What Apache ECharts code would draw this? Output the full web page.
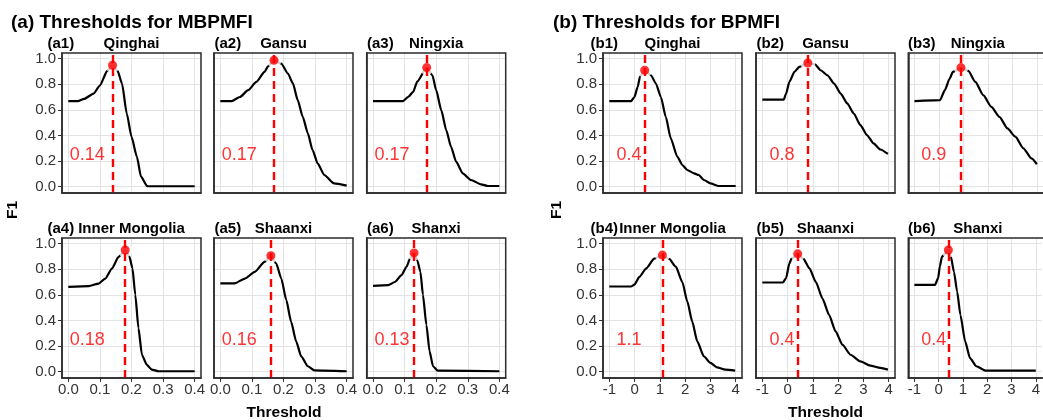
<!DOCTYPE html>
<html><head><meta charset="utf-8">
<script src="https://cdn.jsdelivr.net/npm/echarts@6/dist/echarts.min.js"></script>
<style>html,body{margin:0;padding:0;background:#fff}#c{width:1043px;height:420px}</style>
</head><body><div id="c"></div>
<script>
// ---------------- DATA ----------------
const regions = ['Qinghai', 'Gansu', 'Ningxia', 'Inner Mongolia', 'Shaanxi', 'Shanxi'];
const tagsA = ['(a1)', '(a2)', '(a3)', '(a4)', '(a5)', '(a6)'];
const tagsB = ['(b1)', '(b2)', '(b3)', '(b4)', '(b5)', '(b6)'];
const titleA = '(a) Thresholds for MBPMFI';
const titleB = '(b) Thresholds for BPMFI';
const xTicksA = [0, 0.1, 0.2, 0.3, 0.4];
const xTicksB = [-1, 0, 1, 2, 3, 4];
const yTicks = [0, 0.2, 0.4, 0.6, 0.8, 1.0];

// MBPMFI thresholds and F1 curves
const thresholdsA = [0.14, 0.17, 0.17, 0.18, 0.16, 0.13];
const peakF1A = [0.948, 0.987, 0.93, 0.95, 0.906, 0.927];
const a1X = [0, 0.03, 0.05, 0.08, 0.10, 0.123, 0.14, 0.156, 0.17, 0.185, 0.20, 0.217, 0.23, 0.25, 0.40];
const a1F1 = [0.668, 0.668, 0.685, 0.727, 0.79, 0.904, 0.948, 0.904, 0.805, 0.571, 0.39, 0.234, 0.078, 0.003, 0.003];
const a2X = [0, 0.036, 0.062, 0.088, 0.114, 0.14, 0.151, 0.17, 0.193, 0.214, 0.23, 0.245, 0.261, 0.277, 0.292, 0.308, 0.329, 0.36, 0.40];
const a2F1 = [0.668, 0.668, 0.70, 0.753, 0.818, 0.896, 0.94, 0.987, 0.961, 0.883, 0.805, 0.675, 0.545, 0.416, 0.286, 0.182, 0.091, 0.026, 0.008];
const a3X = [0, 0.095, 0.111, 0.127, 0.14, 0.17, 0.188, 0.20, 0.216, 0.232, 0.247, 0.263, 0.284, 0.31, 0.342, 0.363, 0.40];
const a3F1 = [0.668, 0.668, 0.70, 0.74, 0.82, 0.93, 0.87, 0.753, 0.597, 0.44, 0.31, 0.195, 0.104, 0.052, 0.018, 0.005, 0.005];
const a4X = [0, 0.065, 0.096, 0.117, 0.138, 0.159, 0.18, 0.193, 0.203, 0.212, 0.222, 0.233, 0.248, 0.264, 0.285, 0.40];
const a4F1 = [0.662, 0.668, 0.688, 0.727, 0.805, 0.896, 0.95, 0.90, 0.808, 0.60, 0.34, 0.132, 0.055, 0.016, 0.003, 0.003];
const a5X = [0, 0.046, 0.078, 0.109, 0.14, 0.16, 0.177, 0.193, 0.209, 0.224, 0.24, 0.256, 0.277, 0.298, 0.40];
const a5F1 = [0.69, 0.69, 0.727, 0.779, 0.857, 0.906, 0.844, 0.727, 0.558, 0.39, 0.236, 0.119, 0.042, 0.01, 0.003];
const a6X = [0, 0.048, 0.069, 0.09, 0.106, 0.117, 0.13, 0.14, 0.15, 0.158, 0.169, 0.179, 0.19, 0.205, 0.40];
const a6F1 = [0.67, 0.675, 0.70, 0.753, 0.818, 0.883, 0.927, 0.87, 0.78, 0.60, 0.365, 0.158, 0.042, 0.008, 0.003];

// BPMFI thresholds and F1 curves
const thresholdsB = [0.4, 0.8, 0.9, 1.1, 0.4, 0.4];
const peakF1B = [0.909, 0.966, 0.93, 0.91, 0.92, 0.95];
const b1X = [-1, -0.14, -0.007, 0.124, 0.216, 0.4, 0.647, 0.843, 1.04, 1.235, 1.43, 1.69, 1.89, 2.085, 2.35, 2.54, 2.74, 3.0, 3.33, 4.0];
const b1F1 = [0.668, 0.668, 0.70, 0.78, 0.862, 0.909, 0.87, 0.805, 0.70, 0.545, 0.377, 0.234, 0.169, 0.13, 0.104, 0.091, 0.052, 0.026, 0.005, 0.005];
const b2X = [-1, -0.15, -0.06, 0.07, 0.27, 0.46, 0.8, 1.08, 1.31, 1.575, 1.84, 2.1, 2.36, 2.62, 2.88, 3.14, 3.4, 3.67, 3.97];
const b2F1 = [0.68, 0.68, 0.727, 0.818, 0.896, 0.935, 0.966, 0.956, 0.909, 0.87, 0.805, 0.727, 0.65, 0.571, 0.48, 0.403, 0.338, 0.29, 0.255];
const b3X = [-1, 0.046, 0.242, 0.438, 0.57, 0.9, 1.2, 1.49, 1.81, 2.14, 2.47, 2.8, 3.12, 3.45, 3.78, 4.0];
const b3F1 = [0.668, 0.675, 0.753, 0.844, 0.896, 0.93, 0.904, 0.818, 0.714, 0.623, 0.545, 0.455, 0.39, 0.299, 0.22, 0.175];
const b4X = [-1, -0.14, -0.007, 0.19, 0.45, 0.78, 1.1, 1.37, 1.63, 1.89, 2.085, 2.28, 2.48, 2.74, 3.0, 3.26, 3.59, 3.98];
const b4F1 = [0.665, 0.665, 0.68, 0.74, 0.805, 0.883, 0.91, 0.88, 0.82, 0.70, 0.548, 0.392, 0.236, 0.12, 0.068, 0.034, 0.016, 0.008];
const b5X = [-1, -0.19, -0.06, 0.07, 0.16, 0.4, 0.63, 0.86, 1.12, 1.38, 1.64, 1.9, 2.17, 2.49, 2.88, 3.27, 3.67, 3.97];
const b5F1 = [0.696, 0.696, 0.73, 0.845, 0.883, 0.92, 0.88, 0.808, 0.70, 0.571, 0.444, 0.314, 0.21, 0.132, 0.08, 0.047, 0.029, 0.016];
const b6X = [-1, -0.15, -0.02, 0.046, 0.14, 0.4, 0.5, 0.63, 0.76, 0.895, 1.09, 1.29, 1.55, 1.94, 4.0];
const b6F1 = [0.678, 0.678, 0.73, 0.82, 0.9, 0.95, 0.9, 0.78, 0.626, 0.444, 0.236, 0.106, 0.042, 0.008, 0.008];

// ---------------- LAYOUT ----------------
const FONT = '"Liberation Sans", Arial, Helvetica, sans-serif';
const colLeft = { a: [62, 214, 366.7], b: [603, 756, 908.3] };
const tagLeft = { a: [47.5, 214.5, 367], b: [590.5, 756.5, 908] };
const rowTop = [53, 238];
const PW = 139, PH = 140;
const titleY = [44, 229];

const curvesA = [[a1X, a1F1], [a2X, a2F1], [a3X, a3F1], [a4X, a4F1], [a5X, a5F1], [a6X, a6F1]];
const curvesB = [[b1X, b1F1], [b2X, b2F1], [b3X, b3F1], [b4X, b4F1], [b5X, b5F1], [b6X, b6F1]];

const grids = [], xAxes = [], yAxes = [], series = [], graphics = [];
const RED = '#FF0000', BORDER = '#2b2b2b', GRIDC = '#E3E3E3', TICKC = '#333333';

function addPanel(group, i) {
  const k = grids.length;
  const col = i % 3, row = Math.floor(i / 3);
  const left = colLeft[group][col], top = rowTop[row];
  const isA = group === 'a';
  const [xs, ys] = (isA ? curvesA : curvesB)[i];
  const thr = (isA ? thresholdsA : thresholdsB)[i];
  const peak = (isA ? peakF1A : peakF1B)[i];
  const xTicks = isA ? xTicksA : xTicksB;
  grids.push({ left: left, top: top, width: PW, height: PH, containLabel: false });
  xAxes.push({
    gridIndex: k, type: 'value',
    min: isA ? -0.02 : -1.25, max: isA ? 0.42 : 4.25,
    axisLine: { show: true, onZero: false, lineStyle: { color: BORDER, width: 1.5 } },
    axisTick: { show: row === 1, length: 4, customValues: xTicks, lineStyle: { color: TICKC, width: 1 } },
    axisLabel: { show: row === 1, customValues: xTicks, margin: 4, color: TICKC, fontSize: 15, fontFamily: FONT,
      formatter: v => isA ? v.toFixed(1) : String(v) },
    splitLine: { show: true, lineStyle: { color: GRIDC, width: 1 } }
  });
  yAxes.push({
    gridIndex: k, type: 'value', min: -0.0497, max: 1.0437,
    axisLine: { show: true, onZero: false, lineStyle: { color: BORDER, width: 1.5 } },
    axisTick: { show: col === 0, length: 4, customValues: yTicks, lineStyle: { color: TICKC, width: 1 } },
    axisLabel: { show: col === 0, customValues: yTicks, margin: 6, color: TICKC, fontSize: 15, fontFamily: FONT,
      formatter: v => v.toFixed(1) },
    splitLine: { show: true, lineStyle: { color: GRIDC, width: 1 } }
  });
  series.push({
    type: 'line', xAxisIndex: k, yAxisIndex: k, z: 2, silent: true,
    data: xs.map((x, j) => [x, ys[j]]),
    showSymbol: false, smooth: 0.2, smoothMonotone: 'x',
    lineStyle: { color: '#000', width: 2.2 }
  });
  series.push({
    type: 'scatter', xAxisIndex: k, yAxisIndex: k, z: 3, silent: true,
    data: [[thr, peak]], symbolSize: 15, itemStyle: { color: '#fff' }
  });
  series.push({
    type: 'scatter', xAxisIndex: k, yAxisIndex: k, z: 4, silent: true,
    data: [[thr, peak]], symbolSize: 0,
    markLine: { symbol: 'none', silent: true, label: { show: false },
      lineStyle: { color: RED, type: [8, 5], width: 2.4 }, data: [{ xAxis: thr }] }
  });
  series.push({
    type: 'scatter', xAxisIndex: k, yAxisIndex: k, z: 5, silent: true,
    data: [[thr, peak]], symbolSize: 9, itemStyle: { color: RED }
  });
  series.push({
    type: 'scatter', xAxisIndex: k, yAxisIndex: k, z: 5, silent: true,
    data: [[isA ? 0 : -0.78, 0.25]], symbolSize: 1, itemStyle: { color: 'rgba(0,0,0,0)' },
    label: { show: true, position: 'right', distance: 1, color: RED, fontSize: 18, fontFamily: FONT,
      formatter: () => String(thr) }
  });
  // panel border
  graphics.push({ type: 'rect', z: 100, silent: true,
    shape: { x: left, y: top, width: PW, height: PH },
    style: { fill: 'none', stroke: BORDER, lineWidth: 1.5 } });
  // titles
  graphics.push(textEl((isA ? tagsA : tagsB)[i], tagLeft[group][col], titleY[row], 'bold 15px ' + FONT, 'left'));
  graphics.push(textEl(regions[i], left + PW / 2, titleY[row], 'bold 15px ' + FONT, 'center'));
}

function textEl(text, x, y, font, align, rotation) {
  return { type: 'text', z: 100, silent: true, x: x, y: y, rotation: rotation || 0,
    style: { text: text, font: font, fill: '#000', textAlign: align, textVerticalAlign: 'middle',
      align: align, verticalAlign: 'middle' } };
}

for (let i = 0; i < 6; i++) addPanel('a', i);
for (let i = 0; i < 6; i++) addPanel('b', i);

graphics.push(textEl(titleA, 11, 23, 'bold 19px ' + FONT, 'left'));
graphics.push(textEl(titleB, 553, 23, 'bold 19px ' + FONT, 'left'));
graphics.push(textEl('Threshold', 284, 413, 'bold 15.5px ' + FONT, 'center'));
graphics.push(textEl('Threshold', 825.5, 413, 'bold 15.5px ' + FONT, 'center'));
graphics.push(textEl('F1', 13, 210, 'bold 15.5px ' + FONT, 'center', Math.PI / 2));
graphics.push(textEl('F1', 557, 210, 'bold 15.5px ' + FONT, 'center', Math.PI / 2));

const chart = echarts.init(document.getElementById('c'), null, { renderer: 'canvas' });
chart.setOption({
  animation: false,
  backgroundColor: '#fff',
  grid: grids, xAxis: xAxes, yAxis: yAxes, series: series, graphic: graphics
});
</script></body></html>
